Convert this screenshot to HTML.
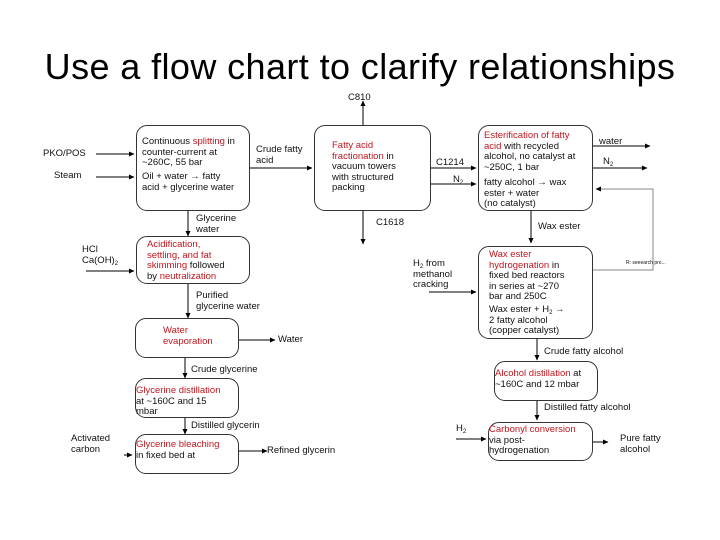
<!DOCTYPE html>
<html><head><meta charset="utf-8"><style>
body{margin:0;width:720px;height:540px;background:#fff;position:relative;overflow:hidden;font-family:"Liberation Sans",Arial,sans-serif;}
.t{position:absolute;left:0;width:720px;top:46px;text-align:center;font-size:36px;color:#000;letter-spacing:0.4px;}
.b{position:absolute;border:1px solid #333;border-radius:11px;box-sizing:border-box;}
.x{position:absolute;font-size:9.5px;line-height:10.5px;color:#111;white-space:nowrap;}
.r{color:#c0161e;}
sub{font-size:6px;line-height:0;vertical-align:-2px;}
svg{position:absolute;left:0;top:0;}
</style></head><body>
<div class="t">Use a flow chart to clarify relationships</div>
<svg width="720" height="540"><defs><marker id="a" markerWidth="6" markerHeight="6" refX="5" refY="3" orient="auto"><path d="M0,0.5 L5.5,3 L0,5.5z" fill="#000"/></marker></defs>
<g stroke="#000" stroke-width="1" fill="none" marker-end="url(#a)">
<path d="M96,154H134"/><path d="M96,177H134"/>
<path d="M249,168H312"/>
<path d="M363,125V101"/><path d="M363,210V244"/>
<path d="M430,168H476"/><path d="M430,184H476"/>
<path d="M592,146H650"/><path d="M592,168H647"/>
<path d="M188,210V236"/>
<path d="M86,271H134"/>
<path d="M188,283V318"/>
<path d="M238,340H275"/>
<path d="M185,357V378"/>
<path d="M185,417V434"/>
<path d="M124,455H132"/>
<path d="M238,451H267"/>
<path d="M531,210V243"/>
<path d="M429,292H476"/>
<path d="M537,338V360"/>
<path d="M537,400V420"/>
<path d="M456,439H486"/>
<path d="M592,442H608"/>
</g>
<path d="M592,270H653V189H596" stroke="#888" stroke-width="1" fill="none" marker-end="url(#a)"/>
</svg>
<div class="b" style="left:136px;top:125px;width:114px;height:86px"></div>
<div class="b" style="left:314px;top:125px;width:117px;height:86px"></div>
<div class="b" style="left:478px;top:125px;width:115px;height:86px"></div>
<div class="b" style="left:136px;top:236px;width:114px;height:48px"></div>
<div class="b" style="left:135px;top:318px;width:104px;height:40px"></div>
<div class="b" style="left:135px;top:378px;width:104px;height:40px"></div>
<div class="b" style="left:135px;top:434px;width:104px;height:40px"></div>
<div class="b" style="left:478px;top:246px;width:115px;height:93px"></div>
<div class="b" style="left:494px;top:361px;width:104px;height:40px"></div>
<div class="b" style="left:488px;top:422px;width:105px;height:39px"></div>

<div class="x" style="left:142px;top:137px">Continuous <span class="r">splitting</span> in<br>counter-current at<br>~260C, 55 bar</div>
<div class="x" style="left:142px;top:172px">Oil + water → fatty<br>acid + glycerine water</div>
<div class="x" style="left:43px;top:149px">PKO/POS</div>
<div class="x" style="left:54px;top:171px">Steam</div>
<div class="x" style="left:256px;top:145px">Crude fatty<br>acid</div>
<div class="x" style="left:348px;top:93px">C810</div>
<div class="x" style="left:332px;top:141px"><span class="r">Fatty acid<br>fractionation</span> in<br>vacuum towers<br>with structured<br>packing</div>
<div class="x" style="left:436px;top:158px">C1214</div>
<div class="x" style="left:453px;top:175px">N<sub>2</sub></div>
<div class="x" style="left:376px;top:218px">C1618</div>
<div class="x" style="left:484px;top:131px"><span class="r">Esterification of fatty<br>acid</span> with recycled<br>alcohol, no catalyst at<br>~250C, 1 bar</div>
<div class="x" style="left:484px;top:178px">fatty alcohol → wax<br>ester + water<br>(no catalyst)</div>
<div class="x" style="left:599px;top:137px">water</div>
<div class="x" style="left:603px;top:157px">N<sub>2</sub></div>
<div class="x" style="left:538px;top:222px">Wax ester</div>
<div class="x" style="left:196px;top:214px">Glycerine<br>water</div>
<div class="x" style="left:82px;top:245px">HCl<br>Ca(OH)<sub>2</sub></div>
<div class="x" style="left:147px;top:240px"><span class="r">Acidification,<br>settling, and fat<br>skimming</span> followed<br>by <span class="r">neutralization</span></div>
<div class="x" style="left:196px;top:291px">Purified<br>glycerine water</div>
<div class="x" style="left:163px;top:326px"><span class="r">Water<br>evaporation</span></div>
<div class="x" style="left:278px;top:335px">Water</div>
<div class="x" style="left:191px;top:365px">Crude glycerine</div>
<div class="x" style="left:136px;top:386px"><span class="r">Glycerine distillation</span><br>at ~160C and 15<br>mbar</div>
<div class="x" style="left:191px;top:421px">Distilled glycerin</div>
<div class="x" style="left:71px;top:434px">Activated<br>carbon</div>
<div class="x" style="left:136px;top:440px"><span class="r">Glycerine bleaching</span><br>in fixed bed at</div>
<div class="x" style="left:267px;top:446px">Refined glycerin</div>
<div class="x" style="left:413px;top:259px">H<sub>2</sub> from<br>methanol<br>cracking</div>
<div class="x" style="left:489px;top:250px"><span class="r">Wax ester<br>hydrogenation</span> in<br>fixed bed reactors<br>in series at ~270<br>bar and 250C</div>
<div class="x" style="left:489px;top:305px">Wax ester + H<sub>2</sub> →<br>2 fatty alcohol<br>(copper catalyst)</div>
<div class="x" style="left:626px;top:258px;font-size:5px">R: seeearch pro...</div>
<div class="x" style="left:544px;top:347px">Crude fatty alcohol</div>
<div class="x" style="left:495px;top:369px"><span class="r">Alcohol distillation</span> at<br>~160C and 12 mbar</div>
<div class="x" style="left:544px;top:403px">Distilled fatty alcohol</div>
<div class="x" style="left:456px;top:424px">H<sub>2</sub></div>
<div class="x" style="left:489px;top:425px"><span class="r">Carbonyl conversion</span><br>via post-<br>hydrogenation</div>
<div class="x" style="left:620px;top:434px">Pure fatty<br>alcohol</div>
</body></html>
